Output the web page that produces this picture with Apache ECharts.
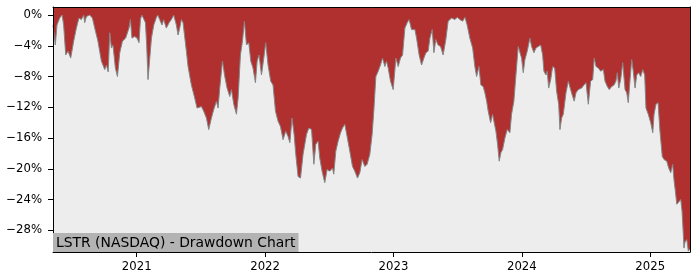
<!DOCTYPE html>
<html>
<head>
<meta charset="utf-8">
<script src="https://cdn.jsdelivr.net/npm/echarts@6/dist/echarts.min.js"></script>
<style>
html,body{margin:0;padding:0;background:#fff;}
#chart{width:700px;height:280px;}
</style>
</head>
<body>
<div id="chart"></div>
<script>
// Dates as decimal years
const dateYears = [
2020.348,2020.353,2020.366,2020.379,2020.400,2020.413,2020.419,2020.431,2020.447,2020.465,
2020.486,2020.509,2020.530,2020.550,2020.569,2020.587,2020.595,2020.608,2020.618,2020.634,
2020.655,2020.673,2020.698,2020.725,2020.751,2020.764,2020.778,2020.790,2020.803,2020.815,
2020.834,2020.850,2020.868,2020.889,2020.914,2020.940,2020.951,2020.963,2020.984,2021.002,
2021.018,2021.029,2021.039,2021.049,2021.068,2021.078,2021.088,2021.115,2021.133,2021.154,
2021.164,2021.179,2021.197,2021.210,2021.231,2021.252,2021.270,2021.288,2021.296,2021.309,
2021.322,2021.335,2021.348,2021.361,2021.387,2021.400,2021.426,2021.452,2021.470,2021.504,
2021.522,2021.543,2021.561,2021.569,2021.582,2021.600,2021.621,2021.634,2021.647,2021.668,
2021.686,2021.704,2021.725,2021.738,2021.756,2021.777,2021.790,2021.808,2021.824,2021.839,
2021.855,2021.873,2021.889,2021.906,2021.925,2021.938,2021.953,2021.972,2021.990,2022.005,
2022.023,2022.044,2022.062,2022.081,2022.101,2022.120,2022.140,2022.161,2022.179,2022.193,
2022.210,2022.226,2022.239,2022.257,2022.276,2022.296,2022.323,2022.341,2022.362,2022.380,
2022.395,2022.413,2022.426,2022.444,2022.465,2022.483,2022.504,2022.525,2022.535,2022.551,
2022.569,2022.588,2022.603,2022.621,2022.639,2022.660,2022.681,2022.699,2022.720,2022.738,
2022.756,2022.777,2022.795,2022.816,2022.834,2022.847,2022.863,2022.881,2022.899,2022.915,
2022.933,2022.946,2022.959,2022.977,2022.998,2023.019,2023.037,2023.055,2023.071,2023.089,
2023.107,2023.122,2023.141,2023.167,2023.180,2023.200,2023.219,2023.237,2023.253,2023.270,
2023.284,2023.302,2023.315,2023.330,2023.348,2023.367,2023.387,2023.408,2023.426,2023.453,
2023.479,2023.497,2023.518,2023.539,2023.557,2023.574,2023.595,2023.617,2023.634,2023.648,
2023.666,2023.681,2023.699,2023.712,2023.726,2023.738,2023.757,2023.772,2023.785,2023.798,
2023.811,2023.824,2023.837,2023.850,2023.868,2023.886,2023.907,2023.920,2023.938,2023.954,
2023.972,2023.985,2023.998,2024.011,2024.024,2024.042,2024.063,2024.076,2024.094,2024.110,
2024.128,2024.147,2024.162,2024.172,2024.188,2024.198,2024.209,2024.225,2024.240,2024.256,
2024.271,2024.287,2024.297,2024.310,2024.323,2024.344,2024.362,2024.380,2024.396,2024.408,
2024.422,2024.440,2024.453,2024.466,2024.484,2024.500,2024.518,2024.536,2024.552,2024.564,
2024.578,2024.596,2024.614,2024.635,2024.648,2024.666,2024.681,2024.700,2024.718,2024.733,
2024.744,2024.755,2024.770,2024.786,2024.804,2024.817,2024.829,2024.843,2024.856,2024.868,
2024.882,2024.895,2024.910,2024.926,2024.942,2024.957,2024.967,2024.985,2025.004,2025.020,
2025.030,2025.045,2025.061,2025.076,2025.094,2025.108,2025.129,2025.144,2025.160,2025.175,
2025.185,2025.196,2025.207,2025.222,2025.238,2025.248,2025.258,2025.263,2025.271,2025.285,
2025.297,2025.310
];
// Drawdown in percent
const drawdown = [
-1.3,-1.5,-3.9,-1.3,-0.4,-0.2,0,-1.3,-5.2,-4.7,
-5.6,-3.4,-1.7,-0.4,-0.6,0,-1.0,-0.2,0,0,
-0.4,-1.7,-3.4,-6.0,-7.1,-6.5,-7.4,-2.3,-4.3,-3.9,
-6.9,-8.0,-4.9,-3.4,-3.0,-1.7,-0.6,-3.0,-2.8,-3.0,
-3.6,-0.6,0,-0.3,-1.0,-4.0,-8.4,-3.0,-1.3,-0.3,
0,-0.6,-1.3,-0.6,-1.7,-1.0,-0.6,0,-0.2,-1.3,
-2.6,-1.7,-0.6,-1.0,-4.7,-6.7,-9.1,-10.8,-12.1,-11.9,
-12.5,-13.4,-14.9,-15.0,-13.4,-12.3,-11.2,-12.1,-9.5,-6.0,
-8.0,-9.5,-10.6,-9.7,-11.6,-12.9,-10.8,-5.2,-3.4,-0.8,
-3.9,-3.6,-6.0,-6.9,-8.8,-6.0,-5.2,-7.8,-5.6,-3.6,
-6.5,-8.6,-9.1,-12.5,-13.8,-14.5,-16.2,-15.1,-15.8,-16.6,
-13.4,-15.5,-18.1,-21.0,-21.2,-18.1,-15.5,-14.7,-14.9,-19.4,
-16.8,-16.4,-18.6,-20.3,-21.8,-20.1,-20.3,-19.9,-20.7,-17.7,
-16.4,-15.3,-14.7,-14.2,-15.8,-17.7,-19.7,-20.3,-21.2,-20.5,
-18.8,-19.7,-19.4,-18.1,-15.5,-12.5,-8.0,-7.3,-6.5,-5.6,
-6.7,-6.0,-6.9,-8.6,-9.7,-5.6,-6.7,-5.6,-5.2,-1.7,
-1.0,-0.6,-1.9,-1.9,-3.0,-5.2,-6.5,-5.6,-4.9,-4.7,
-3.0,-1.9,-4.9,-3.2,-3.9,-4.1,-5.2,-3.2,-0.8,-0.4,
-0.6,-0.3,-0.6,-0.8,-0.3,-1.3,-3.0,-4.3,-6.7,-8.0,
-6.7,-9.1,-9.3,-10.1,-11.2,-12.5,-14.0,-12.9,-12.7,-15.1,
-16.8,-19.0,-17.9,-17.5,-16.0,-14.9,-15.3,-12.9,-11.2,-7.8,
-4.1,-4.3,-5.6,-7.5,-5.8,-4.7,-3.0,-4.1,-4.9,-4.3,
-4.1,-3.9,-5.2,-7.3,-7.8,-7.3,-9.5,-8.4,-6.7,-6.9,
-9.9,-11.6,-14.9,-13.4,-12.9,-10.1,-8.6,-9.7,-10.6,-11.2,
-10.1,-9.7,-9.9,-9.5,-9.1,-8.8,-11.6,-8.6,-8.4,-5.6,
-6.7,-6.9,-7.3,-7.1,-8.6,-9.3,-9.7,-9.3,-9.1,-8.6,
-7.5,-9.5,-8.4,-6.2,-9.7,-10.1,-11.4,-8.4,-5.8,-7.3,
-9.5,-7.8,-7.5,-8.0,-7.1,-7.8,-12.1,-12.9,-14.0,-15.3,
-12.9,-11.6,-11.4,-15.1,-18.4,-18.8,-19.0,-19.9,-20.5,-19.4,
-21.4,-22.9,-24.6,-24.4,-24.0,-25.5,-28.5,-30.3,-29.5,-29.2,
-30.7,-30.4
];
const xTickYears = [2021, 2022, 2023, 2024, 2025];
const yTickValues = [0, -4, -8, -12, -16, -20, -24, -28];
const chartTitle = 'LSTR (NASDAQ) - Drawdown Chart';

if (dateYears.length !== drawdown.length) {
  throw new Error('length mismatch ' + dateYears.length + ' vs ' + drawdown.length);
}
const seriesData = dateYears.map((t, i) => [t, drawdown[i]]);

const FONT = 'DejaVu Sans';
const xMin = dateYears[0], xMax = dateYears[dateYears.length - 1];
const yMin = -30.81, yMax = 1.04;

const chart = echarts.init(document.getElementById('chart'), null, {renderer: 'canvas'});
chart.setOption({
  animation: false,
  backgroundColor: '#ffffff',
  title: {
    text: chartTitle,
    left: 53,
    top: 233,
    backgroundColor: '#b3b3b3',
    padding: [2, 3, 1, 3],
    z: 20,
    textStyle: {fontFamily: FONT, fontSize: 13.9, fontWeight: 'normal', color: '#000', lineHeight: 16}
  },
  grid: {
    left: 53, right: 10, top: 7, bottom: 28,
    show: true, backgroundColor: '#ededed', borderWidth: 0
  },
  xAxis: [{
    type: 'value', min: xMin, max: xMax, position: 'bottom', z: 5,
    axisLine: {show: true, onZero: false, lineStyle: {color: '#000', width: 1}},
    axisTick: {show: true, length: 5, lineStyle: {color: '#000'}, customValues: xTickYears},
    axisLabel: {show: true, customValues: xTickYears, formatter: v => String(Math.round(v)),
      fontFamily: FONT, fontSize: 11.7, color: '#000', margin: 8.5},
    splitLine: {show: false}
  }, {
    type: 'value', min: xMin, max: xMax, position: 'top', z: 5,
    axisLine: {show: true, onZero: false, lineStyle: {color: '#000', width: 1}},
    axisTick: {show: false}, axisLabel: {show: false}, splitLine: {show: false}
  }],
  yAxis: [{
    type: 'value', min: yMin, max: yMax, position: 'left', z: 5,
    axisLine: {show: true, onZero: false, lineStyle: {color: '#000', width: 1}},
    axisTick: {show: true, length: 5, lineStyle: {color: '#000'}, customValues: yTickValues},
    axisLabel: {show: true, customValues: yTickValues,
      formatter: v => (v < 0 ? '\u2212' + Math.abs(v) : String(v)) + '%',
      fontFamily: FONT, fontSize: 11.7, color: '#000', margin: 11},
    splitLine: {show: false}
  }, {
    type: 'value', min: yMin, max: yMax, position: 'right', z: 5,
    axisLine: {show: true, onZero: false, lineStyle: {color: '#000', width: 1}},
    axisTick: {show: false}, axisLabel: {show: false}, splitLine: {show: false}
  }],
  series: [{
    type: 'line',
    xAxisIndex: 0, yAxisIndex: 0,
    data: seriesData,
    showSymbol: false,
    symbol: 'none',
    lineStyle: {color: '#858585', width: 1},
    areaStyle: {color: '#b03030', opacity: 1, origin: 'end'},
    z: 2
  }]
});
</script>
</body>
</html>
